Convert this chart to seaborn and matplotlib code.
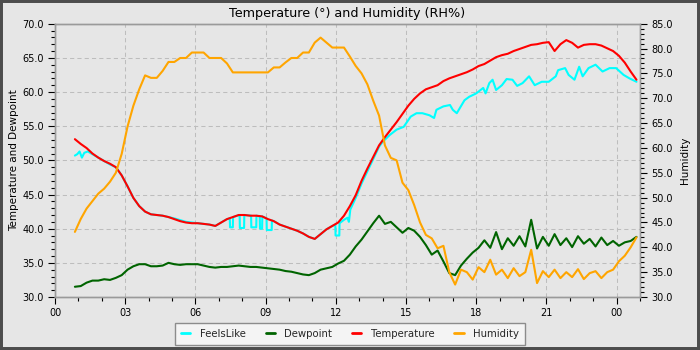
import numpy as np
import pandas as pd
import matplotlib
matplotlib.use("Agg")
import matplotlib.pyplot as plt
import seaborn as sns
from matplotlib.ticker import FixedLocator, MultipleLocator, FormatStrFormatter
from matplotlib.patches import Rectangle
from matplotlib.lines import Line2D

# ---------------- data (hours since 00:00) ----------------
hours = np.arange(0.85, 24.86, 0.25)

temperature = [53.1, 52.4, 51.8, 51.0, 50.4, 49.9, 49.5, 49.0, 47.8, 46.2,
               44.5, 43.3, 42.5, 42.1, 42.0, 41.9, 41.7, 41.4, 41.1, 40.9,
               40.8, 40.8, 40.7, 40.6, 40.4, 40.9, 41.4, 41.7, 42.0, 42.0,
               41.9, 41.9, 41.8, 41.4, 41.1, 40.6, 40.3, 40.0, 39.7, 39.3,
               38.8, 38.5, 39.2, 39.9, 40.4, 40.9, 41.9, 43.3, 44.9, 47.0,
               48.8, 50.5, 52.2, 53.4, 54.5, 55.6, 56.8, 58.0, 59.0, 59.8,
               60.4, 60.7, 61.0, 61.6, 62.0, 62.3, 62.6, 62.9, 63.3, 63.8,
               64.1, 64.6, 65.1, 65.4, 65.6, 66.0, 66.3, 66.6, 66.9, 67.0,
               67.2, 67.3, 66.0, 67.0, 67.6, 67.2, 66.5, 66.9, 67.0, 67.0,
               66.8, 66.4, 66.0, 65.3, 64.3, 63.0, 61.8]

dewpoint = [31.5, 31.6, 32.1, 32.4, 32.4, 32.6, 32.5, 32.8, 33.2, 34.0,
            34.5, 34.8, 34.8, 34.5, 34.5, 34.6, 35.0, 34.8, 34.7, 34.8,
            34.8, 34.8, 34.6, 34.4, 34.3, 34.4, 34.4, 34.5, 34.6, 34.5,
            34.4, 34.4, 34.3, 34.2, 34.1, 34.0, 33.8, 33.7, 33.5, 33.3,
            33.2, 33.5, 34.0, 34.2, 34.4, 34.9, 35.3, 36.2, 37.4, 38.4,
            39.6, 40.8, 41.9, 40.7, 41.0, 40.2, 39.4, 40.1, 39.7, 38.8,
            37.6, 36.2, 36.8, 35.2, 33.5, 33.2, 34.6, 35.6, 36.5, 37.2,
            38.3, 37.2, 39.5, 37.0, 38.6, 37.5, 38.9, 37.4, 41.3, 37.1,
            38.8, 37.5, 39.2, 37.6, 38.6, 37.3, 38.9, 37.8, 38.5, 37.4,
            38.7, 37.6, 38.2, 37.5, 38.0, 38.2, 38.8]

humidity = [43.1, 45.7, 47.8, 49.3, 50.8, 51.8, 53.2, 55.0, 58.8, 64.3,
            68.5, 71.8, 74.6, 74.1, 74.1, 75.5, 77.3, 77.3, 78.1, 78.1,
            79.2, 79.2, 79.2, 78.1, 78.1, 78.1, 77.0, 75.2, 75.2, 75.2,
            75.2, 75.2, 75.2, 75.2, 76.2, 76.2, 77.2, 78.1, 78.1, 79.2,
            79.2, 81.2, 82.2, 81.2, 80.2, 80.2, 80.2, 78.4, 76.5, 75.0,
            72.8, 69.5, 66.5, 60.5, 58.0, 57.5, 53.0, 51.5, 48.5, 45.0,
            42.5, 41.8, 39.8, 40.3, 35.0, 32.5, 35.5, 35.0, 33.5, 36.0,
            35.0, 37.5, 34.5, 35.5, 33.8, 35.8, 34.2, 35.0, 39.5, 32.8,
            35.2, 34.0, 35.5, 33.8, 35.0, 34.0, 35.6, 33.6, 34.8, 35.2,
            33.8, 35.0, 35.5, 37.2, 38.3, 40.0, 42.0]

feels_hours = [0.85, 0.95, 1.05, 1.15, 1.25, 1.40, 1.55, 1.75, 1.95, 2.15,
               2.35, 2.60, 2.85, 3.10, 3.35, 3.60, 3.85, 4.10, 4.60, 5.10,
               5.60, 6.10, 6.60, 6.85, 7.10, 7.35, 7.47, 7.48, 7.60, 7.61,
               7.89, 7.90, 8.08, 8.09, 8.38, 8.39, 8.60, 8.61, 8.75, 8.76,
               8.85, 8.86, 9.04, 9.05, 9.26, 9.27, 9.35, 9.60, 9.85, 10.10,
               10.35, 10.60, 10.85, 11.10, 11.35, 11.60, 11.85, 11.98, 11.99, 12.15,
               12.16, 12.35, 12.50, 12.56, 12.62, 12.85, 13.10, 13.35, 13.60, 13.85,
               14.00, 14.30, 14.60, 14.90, 15.20, 15.45, 15.70, 16.00, 16.20, 16.30,
               16.60, 16.88, 17.00, 17.17, 17.50, 17.70, 18.00, 18.30, 18.40, 18.56,
               18.70, 18.85, 19.10, 19.30, 19.55, 19.75, 19.98, 20.26, 20.50, 20.80,
               21.10, 21.40, 21.50, 21.80, 21.95, 22.20, 22.40, 22.55, 22.80, 23.10,
               23.40, 23.70, 23.98, 24.30, 24.55, 24.85]
feels_like = [50.7, 50.9, 51.3, 50.4, 51.1, 51.3, 51.0, 50.6, 50.2, 49.8,
              49.4, 49.0, 47.8, 46.2, 44.5, 43.3, 42.5, 42.1, 41.9, 41.5,
              41.0, 40.8, 40.6, 40.4, 40.9, 41.4, 41.5, 40.2, 40.2, 41.7,
              42.0, 40.1, 40.1, 42.0, 41.9, 40.2, 40.2, 41.9, 41.8, 40.0,
              40.0, 41.8, 41.5, 39.8, 39.8, 41.2, 41.1, 40.6, 40.3, 40.0,
              39.7, 39.3, 38.8, 38.5, 39.2, 39.9, 40.4, 40.6, 39.0, 39.0,
              40.8, 41.3, 41.6, 41.0, 42.8, 44.5, 46.6, 48.4, 50.2, 52.0,
              52.7, 53.7, 54.5, 54.9, 56.4, 56.9, 56.9, 56.6, 56.2, 57.4,
              57.9, 58.1, 57.4, 56.9, 58.8, 59.3, 59.8, 60.6, 59.8, 61.3,
              61.8, 60.3, 61.0, 61.9, 61.8, 60.9, 61.3, 62.3, 61.0, 61.5,
              61.5, 62.3, 63.2, 63.5, 62.5, 61.8, 63.7, 62.3, 63.5, 64.0,
              63.0, 63.5, 63.5, 62.5, 62.0, 61.5]

series_names = ["FeelsLike", "Dewpoint", "Temperature", "Humidity"]
series_colors = ["#00ffff", "#006400", "#ff0000", "#ffa500"]
x_tick_hours = [0, 3, 6, 9, 12, 15, 18, 21, 24]
x_tick_labels = ["00", "03", "06", "09", "12", "15", "18", "21", "00"]
title = "Temperature (°) and Humidity (RH%)"

# ---------------- style ----------------
sns.set_theme(style="ticks")
plt.rcParams['font.family'] = ['DejaVu Sans']
BG = '#e6e6e6'
SPINE = '#9a9a9a'

fig = plt.figure(figsize=(7, 3.5), dpi=100, facecolor=BG)
ax = fig.add_axes([55 / 700, 1 - 297 / 350, (640 - 55) / 700, (297 - 23.7) / 350])
ax.set_facecolor(BG)
ax2 = ax.twinx()

lw = 1.5
sns.lineplot(x=feels_hours, y=feels_like, ax=ax, color=series_colors[0], lw=lw,
             estimator=None, sort=False, legend=False)
sns.lineplot(x=hours, y=dewpoint, ax=ax, color=series_colors[1], lw=lw,
             estimator=None, sort=False, legend=False)
sns.lineplot(x=hours, y=temperature, ax=ax, color=series_colors[2], lw=lw,
             estimator=None, sort=False, legend=False)
sns.lineplot(x=hours, y=humidity, ax=ax2, color=series_colors[3], lw=lw,
             estimator=None, sort=False, legend=False)

ax.set_xlim(0, 25)
ax.set_ylim(30, 70)
ax2.set_ylim(30, 85)

ax.xaxis.set_major_locator(FixedLocator(x_tick_hours))
ax.set_xticklabels(x_tick_labels)
ax.xaxis.set_minor_locator(MultipleLocator(1))
ax.yaxis.set_major_locator(MultipleLocator(5))
ax.yaxis.set_minor_locator(MultipleLocator(1))
ax.yaxis.set_major_formatter(FormatStrFormatter('%.1f'))
ax2.yaxis.set_major_locator(MultipleLocator(5))
ax2.yaxis.set_minor_locator(MultipleLocator(1))
ax2.yaxis.set_major_formatter(FormatStrFormatter('%.1f'))

for a in (ax, ax2):
    a.tick_params(which='major', length=5, width=0.8, color='black',
                  labelsize=7, labelcolor='black', pad=3, direction='out')
    a.tick_params(which='minor', length=3, width=0.8, color='black', direction='out')
    for s in a.spines.values():
        s.set_color(SPINE)
        s.set_linewidth(1.0)
    a.set_xlabel("")

ax.grid(True, which='major', linestyle=(0, (4, 3)), color='#bdbdbd', lw=0.75)
ax.set_axisbelow(True)
ax2.grid(False)

ax.set_ylabel("Temperature and Dewpoint", fontsize=7.5, labelpad=2, color='black')
ax2.set_ylabel("Humidity", fontsize=7.5, labelpad=5, color='black')
ax.set_title(title, fontsize=9.2, pad=5, color='black')

handles = [Line2D([], [], color=c, lw=2) for c in series_colors]
leg = fig.legend(handles, series_names, loc='lower center', bbox_to_anchor=(0.5, 0.0),
                 ncol=4, frameon=True, fancybox=False, fontsize=7.3,
                 handlelength=0.9, handletextpad=0.9, columnspacing=2.0,
                 borderpad=0.6, facecolor='#f4f4f4', edgecolor='#8c8c8c', framealpha=1)
leg.get_frame().set_linewidth(1.0)

fig.add_artist(Rectangle((0, 0), 1, 1, transform=fig.transFigure, fill=False,
                         edgecolor='#4d4d4d', lw=4.3, zorder=10))

fig.savefig("out.png", dpi=100, facecolor=BG)
